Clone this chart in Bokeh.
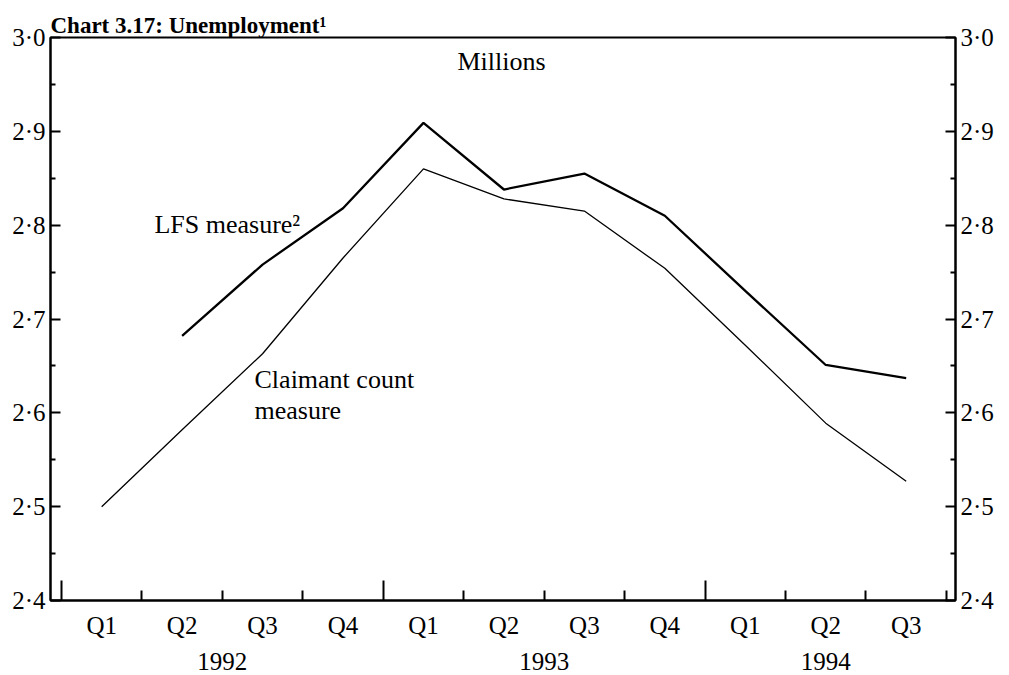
import math
from bokeh.plotting import figure
from bokeh.models import (FixedTicker, LinearAxis, CustomJSTickFormatter, Label,
                          Range1d)
from bokeh.embed import file_html
from bokeh.resources import INLINE

# ---- data -------------------------------------------------------------
quarters = ["Q1", "Q2", "Q3", "Q4", "Q1", "Q2", "Q3", "Q4", "Q1", "Q2", "Q3"]
years = ["1992", "1993", "1994"]
claimant = [2.500, 2.582, 2.663, 2.765, 2.860, 2.828, 2.815, 2.754, 2.672, 2.589, 2.527]
lfs = [math.nan, 2.682, 2.758, 2.818, 2.909, 2.838, 2.855, 2.810, 2.730, 2.651, 2.637]
y_ticks = [2.4, 2.5, 2.6, 2.7, 2.8, 2.9, 3.0]
y_minor = [2.45, 2.55, 2.65, 2.75, 2.85, 2.95]

FONT = "Liberation Serif"
FS = "25px"
AFS = "26px"

x = list(range(len(quarters)))
year_bounds = [i - 0.5 for i, q in enumerate(quarters) if q == "Q1"]
quarter_bounds = [i + 0.5 for i in x if (i + 0.5) not in year_bounds]
# each year label centred on the visible quarters of that year
starts = [i for i, q in enumerate(quarters) if q == "Q1"] + [len(quarters)]
year_x = [(a + b - 1) / 2 for a, b in zip(starts[:-1], starts[1:])]

p = figure(width=1009, height=675,
           x_range=Range1d(-0.636, 10.613), y_range=Range1d(2.4, 3.0),
           output_backend="svg", toolbar_location=None,
           x_axis_location=None, y_axis_location=None,
           min_border_left=50, min_border_right=54,
           min_border_top=37, min_border_bottom=75,
           title="Chart 3.17: Unemployment\u00b9")
p.grid.visible = False
p.outline_line_color = "black"
p.outline_line_width = 2
p.background_fill_color = "white"
p.border_fill_color = "white"

p.title.text_font = FONT
p.title.text_font_size = "23px"
p.title.text_font_style = "bold"
p.title.text_color = "black"
p.title.align = "left"
p.title.offset = 0
p.title.standoff = 0

y_fmt = CustomJSTickFormatter(code="return tick.toFixed(1).replace('.', '\u00b7');")

def yaxis():
    return LinearAxis(ticker=FixedTicker(ticks=y_ticks, minor_ticks=y_minor),
                      formatter=y_fmt,
                      major_tick_in=10, major_tick_out=0,
                      minor_tick_in=5, minor_tick_out=0,
                      major_tick_line_width=2, minor_tick_line_width=2,
                      axis_line_width=2, major_label_standoff=5,
                      major_label_text_font=FONT, major_label_text_font_size=FS,
                      major_label_text_color="black")

p.add_layout(yaxis(), "left")
p.add_layout(yaxis(), "right")

# quarter-boundary ticks (taller at year boundaries), no labels
xa = LinearAxis(ticker=FixedTicker(ticks=year_bounds, minor_ticks=quarter_bounds),
                formatter=CustomJSTickFormatter(code="return '';"),
                major_tick_in=20, major_tick_out=0,
                minor_tick_in=10, minor_tick_out=0,
                major_tick_line_width=2, minor_tick_line_width=2,
                axis_line_width=2, major_label_standoff=0,
                major_label_text_font_size="0px")
p.add_layout(xa, "below")

# quarter labels
xb = LinearAxis(ticker=FixedTicker(ticks=x),
                formatter=CustomJSTickFormatter(args=dict(labels=quarters),
                                                code="return labels[Math.round(tick)] || '';"),
                major_tick_in=0, major_tick_out=0,
                axis_line_color=None, major_tick_line_color=None,
                minor_tick_line_color=None, major_label_standoff=11,
                major_label_text_font=FONT, major_label_text_font_size=FS,
                major_label_text_color="black")
p.add_layout(xb, "below")

# year labels
xc = LinearAxis(ticker=FixedTicker(ticks=year_x),
                formatter=CustomJSTickFormatter(args=dict(x=year_x, labels=years),
                                                code="for (let i = 0; i < x.length; i++) { if (Math.abs(x[i] - tick) < 1e-6) return labels[i]; } return '';"),
                major_tick_in=0, major_tick_out=0,
                axis_line_color=None, major_tick_line_color=None,
                minor_tick_line_color=None, major_label_standoff=11,
                major_label_text_font=FONT, major_label_text_font_size=FS,
                major_label_text_color="black")
p.add_layout(xc, "below")

# ---- series -----------------------------------------------------------
p.line(x, lfs, line_color="black", line_width=2.3)
p.line(x, claimant, line_color="black", line_width=1.3)

# ---- annotations -------------------------------------------------------
p.add_layout(Label(x=4.97, y=2.974, text="Millions", text_align="center",
                   text_baseline="alphabetic", text_font=FONT, text_font_size=AFS,
                   text_color="black"))
p.add_layout(Label(x=0.656, y=2.8005, text="LFS measure\u00b2",
                   text_baseline="alphabetic", text_font=FONT, text_font_size=AFS,
                   text_color="black"))
p.add_layout(Label(x=1.9, y=2.6355, text="Claimant count",
                   text_baseline="alphabetic", text_font=FONT, text_font_size=AFS,
                   text_color="black"))
p.add_layout(Label(x=1.9, y=2.6025, text="measure",
                   text_baseline="alphabetic", text_font=FONT, text_font_size=AFS,
                   text_color="black"))

open("out.html", "w").write(file_html(p, INLINE))
